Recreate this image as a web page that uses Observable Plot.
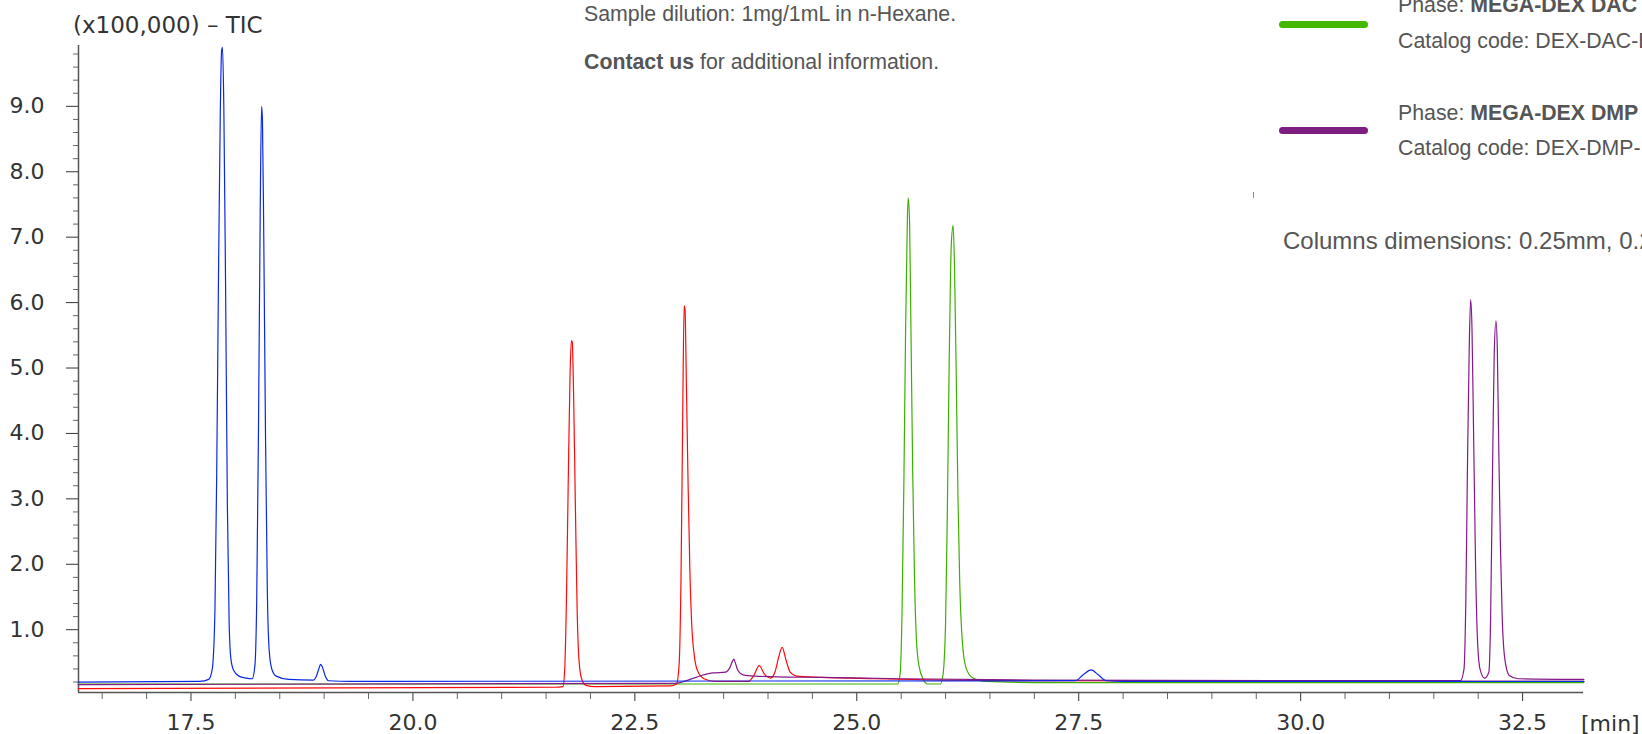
<!DOCTYPE html>
<html><head><meta charset="utf-8">
<script src="https://cdn.jsdelivr.net/npm/d3@7"></script>
<script src="https://cdn.jsdelivr.net/npm/@observablehq/plot@0.6"></script>
<style>
html,body{margin:0;padding:0;background:#fff;overflow:hidden;}
#wrap{position:relative;width:1642px;height:734px;overflow:hidden;background:#fff;}
#wrap svg{position:absolute;left:0;top:0;}
.t{position:absolute;white-space:nowrap;font-family:"Liberation Sans",Arial,sans-serif;color:#555;font-size:21.3px;line-height:24px;}
.t b{color:#555;}
.d{position:absolute;white-space:nowrap;font-family:"DejaVu Sans",sans-serif;color:#333;}
.leg{position:absolute;height:7px;border-radius:4px;}
</style></head><body>
<div id="wrap">
  <div class="d" style="left:73px;top:11px;font-size:23px;line-height:28px;">(x100,000) – TIC</div>
  <div class="d" style="left:1581px;top:710px;font-size:22px;line-height:28px;">[min]</div>
  <div class="t" style="left:584px;top:2px;">Sample dilution: 1mg/1mL in n-Hexane.</div>
  <div class="t" style="left:584px;top:50px;"><b>Contact us</b> for additional information.</div>
  <div class="leg" style="left:1279px;top:21px;width:89px;background:#44b800;"></div>
  <div class="t" style="left:1398px;top:-7px;">Phase: <b>MEGA-DEX DAC Beta</b></div>
  <div class="t" style="left:1398px;top:29px;">Catalog code: DEX-DAC-B</div>
  <div class="leg" style="left:1279px;top:127px;width:89px;background:#7d1e80;"></div>
  <div class="t" style="left:1398px;top:101px;">Phase: <b>MEGA-DEX DMP Beta</b></div>
  <div class="t" style="left:1398px;top:136px;">Catalog code: DEX-DMP-B</div>
  <div style="position:absolute;left:1253px;top:192px;width:1px;height:6px;background:#888;"></div>
  <div class="t" style="left:1283px;top:227px;font-size:24px;line-height:28px;">Columns dimensions: 0.25mm, 0.25µm, 30m</div>
</div>
<script>
// axis tick labels
const xMajorTicks = [17.5, 20.0, 22.5, 25.0, 27.5, 30.0, 32.5];
const yMajorTicks = [1, 2, 3, 4, 5, 6, 7, 8, 9];
const xDomain = [16.233, 33.186];
const yDomain = [0.04, 9.93];

// blue trace (retention time [min], TIC x100,000)
const blueTime   = [16.23, 17.60, 17.70, 17.74, 17.77, 17.79, 17.81, 17.83, 17.845, 17.855, 17.87, 17.89, 17.91, 17.93, 17.95, 17.98, 18.04, 18.12, 18.19,
                    18.22, 18.24, 18.26, 18.28, 18.295, 18.305, 18.32, 18.34, 18.36, 18.38, 18.41, 18.46, 18.60, 18.88,
                    18.91, 18.94, 18.96, 18.98, 19.01, 19.05, 19.30, 27.46, 27.55, 27.64, 27.72, 27.81, 28.00, 33.19];
const blueSignal = [0.20, 0.21, 0.24, 0.40, 1.3, 3.4, 6.4, 8.9, 9.85, 9.9, 9.0, 6.2, 2.9, 1.1, 0.55, 0.38, 0.29, 0.26, 0.25,
                    0.45, 1.4, 4.0, 7.4, 9.0, 8.8, 7.0, 3.9, 1.6, 0.7, 0.40, 0.29, 0.24, 0.23,
                    0.28, 0.40, 0.47, 0.43, 0.30, 0.22, 0.21, 0.22, 0.31, 0.385, 0.31, 0.22, 0.21, 0.21];

// red trace
const redTime   = [16.23, 21.60, 21.69, 21.71, 21.73, 21.75, 21.77, 21.785, 21.795, 21.81, 21.83, 21.85, 21.87, 21.90, 21.95, 22.05,
                   22.90, 22.97, 23.00, 23.02, 23.04, 23.055, 23.065, 23.08, 23.10, 23.12, 23.14, 23.17, 23.21, 23.28, 23.40,
                   23.78, 23.84, 23.90, 23.96, 24.03, 24.08, 24.12, 24.16, 24.20, 24.25, 24.32, 24.60, 25.20, 26.00, 27.00, 33.19];
const redSignal = [0.10, 0.12, 0.13, 0.40, 1.5, 3.3, 4.9, 5.42, 5.40, 4.6, 2.9, 1.3, 0.55, 0.25, 0.15, 0.13,
                   0.14, 0.17, 0.50, 1.8, 4.4, 5.95, 5.9, 4.8, 3.2, 1.9, 1.1, 0.60, 0.36, 0.25, 0.21,
                   0.21, 0.30, 0.45, 0.32, 0.26, 0.36, 0.58, 0.73, 0.55, 0.35, 0.29, 0.27, 0.25, 0.23, 0.22, 0.21];

// green trace
const greenTime   = [16.23, 25.46, 25.49, 25.51, 25.53, 25.55, 25.57, 25.58, 25.595, 25.61, 25.63, 25.65, 25.67, 25.70, 25.75, 25.80,
                     25.94, 25.97, 26.00, 26.02, 26.04, 26.065, 26.085, 26.10, 26.12, 26.14, 26.16, 26.19, 26.23, 26.30, 26.45, 27.20, 33.19];
const greenSignal = [0.17, 0.17, 0.35, 1.3, 3.2, 5.6, 7.3, 7.6, 7.2, 5.6, 3.4, 1.8, 0.9, 0.45, 0.24, 0.17,
                     0.17, 0.30, 1.1, 2.8, 5.0, 6.9, 7.18, 6.6, 4.9, 3.0, 1.7, 0.8, 0.42, 0.27, 0.21, 0.19, 0.19];

// purple trace
const purpleTime   = [16.23, 22.95, 23.10, 23.25, 23.38, 23.52, 23.57, 23.60, 23.615, 23.63, 23.66, 23.72, 23.85, 24.10, 24.60, 25.50, 27.00,
                      31.80, 31.84, 31.86, 31.88, 31.90, 31.915, 31.93, 31.95, 31.97, 31.99, 32.02, 32.07,
                      32.12, 32.14, 32.16, 32.18, 32.20, 32.215, 32.23, 32.25, 32.27, 32.30, 32.35, 32.45, 33.19];
const purpleSignal = [0.16, 0.18, 0.23, 0.30, 0.34, 0.35, 0.42, 0.52, 0.55, 0.50, 0.38, 0.31, 0.29, 0.28, 0.27, 0.25, 0.23,
                      0.22, 0.40, 1.4, 3.6, 5.4, 6.05, 5.6, 3.8, 2.0, 0.9, 0.40, 0.26,
                      0.35, 1.2, 3.3, 5.2, 5.72, 5.3, 3.9, 2.3, 1.2, 0.55, 0.30, 0.25, 0.24];

const toRows = (ts, vs) => ts.map((t, i) => ({t, v: vs[i]}));
const blue = toRows(blueTime, blueSignal);
const red = toRows(redTime, redSignal);
const green = toRows(greenTime, greenSignal);
const purple = toRows(purpleTime, purpleSignal);

const xMinorTicks = d3.range(33, 66).map(k => k / 2).filter(v => !xMajorTicks.includes(v));
const yMinorTicks = d3.range(1, 50).map(k => k / 5).filter(v => Math.abs(v - Math.round(v)) > 1e-9);

const lineOpts = {x: "t", y: "v", strokeWidth: 1.2, curve: "monotone-x"};

const chart = Plot.plot({
  width: 1642, height: 734,
  marginLeft: 78, marginRight: 59, marginTop: 45, marginBottom: 42,
  x: {domain: xDomain, axis: null, label: null},
  y: {domain: yDomain, axis: null, label: null},
  style: {background: "transparent", fontFamily: "DejaVu Sans", color: "#333", overflow: "visible"},
  marks: [
    Plot.axisY(yMinorTicks, {tickSize: 5, tickFormat: () => "", label: null, color: "#666"}),
    Plot.axisY(yMajorTicks, {tickSize: 12, tickPadding: 22, tickFormat: d3.format(".1f"), fontSize: 22, label: null, color: "#333"}),
    Plot.axisX(xMinorTicks, {tickSize: 7, tickFormat: () => "", label: null, color: "#666"}),
    Plot.axisX(xMajorTicks, {tickSize: 9, tickPadding: 13, tickFormat: d3.format(".1f"), fontSize: 22, label: null, color: "#333"}),
    Plot.ruleX([xDomain[0]], {stroke: "#555", strokeWidth: 1.5}),
    Plot.ruleY([yDomain[0]], {stroke: "#555", strokeWidth: 1.5}),
    Plot.line(green, {...lineOpts, stroke: "#3cb000"}),
    Plot.line(red, {...lineOpts, stroke: "#ff0a0a"}),
    Plot.line(purple, {...lineOpts, stroke: "#86198a"}),
    Plot.line(blue, {...lineOpts, stroke: "#0a28e8"})
  ]
});
document.getElementById("wrap").prepend(chart);
</script>
</body></html>
